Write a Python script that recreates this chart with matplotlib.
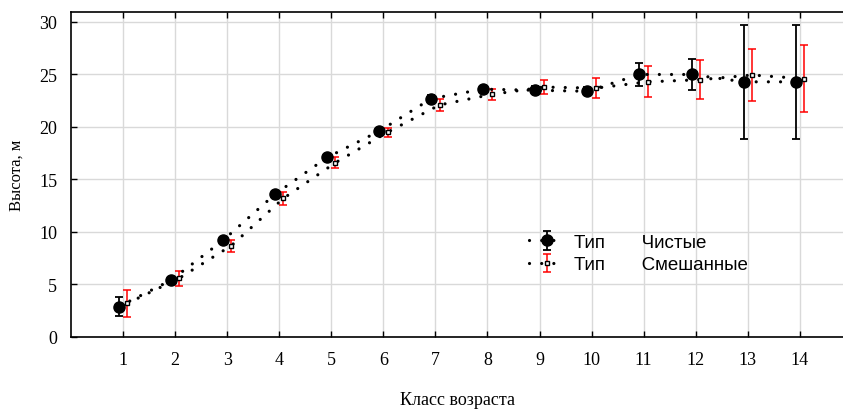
import matplotlib
matplotlib.use("Agg")
import numpy as np
import matplotlib.pyplot as plt

# ------------------ data ------------------
age_class = [1, 2, 3, 4, 5, 6, 7, 8, 9, 10, 11, 12, 13, 14]

pure_mean = [2.9, 5.4, 9.2, 13.6, 17.1, 19.6, 22.7, 23.6, 23.5, 23.4, 25.0, 25.0, 24.3, 24.3]
pure_err = [0.9, 0.3, 0.3, 0.3, 0.3, 0.3, 0.3, 0.3, 0.4, 0.4, 1.1, 1.45, 5.45, 5.45]

mixed_mean = [3.2, 5.6, 8.7, 13.2, 16.6, 19.5, 22.1, 23.1, 23.8, 23.7, 24.3, 24.5, 24.95, 24.6]
mixed_err = [1.25, 0.7, 0.57, 0.63, 0.5, 0.43, 0.55, 0.5, 0.7, 0.92, 1.46, 1.84, 2.46, 3.17]

x_ticks = age_class
y_ticks = [0, 5, 10, 15, 20, 25, 30]

# ------------------ plot ------------------
serif = "Liberation Serif"
sans = "Liberation Sans"

fig = plt.figure(figsize=(8.43, 4.10), dpi=100)
ax = fig.add_axes([71 / 843, 1 - 338 / 410, (843 - 71) / 843, (338 - 13) / 410])

x = np.array(age_class, dtype=float)
dots = (0, (0.01, 3.8))

ax.errorbar(x - 0.08, pure_mean, yerr=pure_err, color="black", ecolor="black",
            linestyle=dots, linewidth=2.3, dash_capstyle="round",
            marker="o", markersize=8, markerfacecolor="black", markeredgecolor="black",
            elinewidth=1.3, capsize=2.6, capthick=1.3, zorder=3,
            label="Тип       Чистые")
ax.errorbar(x + 0.08, mixed_mean, yerr=mixed_err, color="black", ecolor="red",
            linestyle=dots, linewidth=2.3, dash_capstyle="round",
            marker="s", markersize=3.5, markerfacecolor="white", markeredgecolor="black",
            elinewidth=1.1, capsize=2.6, capthick=1.1, zorder=3,
            label="Тип       Смешанные")

ax.set_xlim(0, 14.83)
ax.set_ylim(0, 30.95)
ax.set_xticks(x_ticks)
ax.set_yticks(y_ticks)
ax.grid(True, color="#d9d9d9", linewidth=1)
ax.set_axisbelow(True)

ax.tick_params(direction="in", length=4, width=1, top=True, labelsize=13)
for lab in ax.get_xticklabels() + ax.get_yticklabels():
    lab.set_fontfamily(serif)
ax.tick_params(axis="x", pad=10)
ax.tick_params(axis="y", pad=10)
ax.spines["right"].set_visible(False)
for s in ["left", "bottom", "top"]:
    ax.spines[s].set_linewidth(1.2)

ax.set_xlabel("Класс возраста", fontfamily=serif, fontsize=13, labelpad=17)
ax.set_ylabel("Высота, м", fontfamily=serif, fontsize=12, labelpad=10)

ax.legend(loc="upper left", bbox_to_anchor=(0.572, 0.37), frameon=False,
          prop={"family": sans, "size": 13.5}, handlelength=1.9,
          handletextpad=0.5, labelspacing=0.3)

fig.savefig("out.png", dpi=100)
